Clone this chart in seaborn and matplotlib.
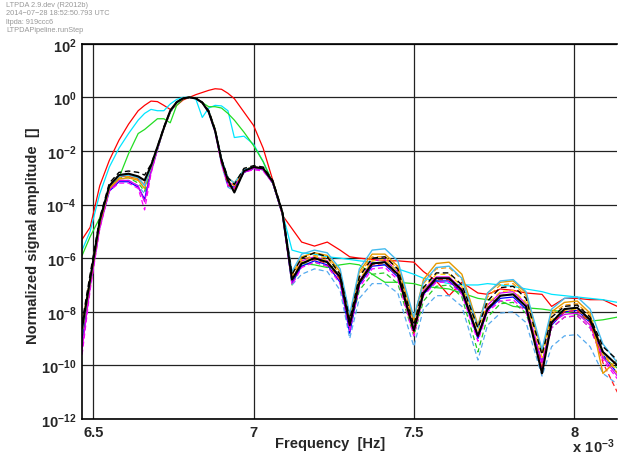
"""
Normalized signal amplitude vs frequency (LTPDA style plot)
"""

import numpy as np
import pandas as pd
import matplotlib
matplotlib.use('Agg')
import matplotlib.pyplot as plt
import matplotlib.ticker as mticker
import seaborn as sns

sns.set_style('white')
plt.rcParams['font.family'] = ['Liberation Sans', 'DejaVu Sans']
plt.rcParams['mathtext.fontset'] = 'custom'
plt.rcParams['mathtext.rm'] = 'Liberation Sans'
plt.rcParams['mathtext.bf'] = 'Liberation Sans:bold'

# frequency grid in units of 1e-3 Hz
freq = [6.465, 6.49, 6.52, 6.55, 6.58, 6.61, 6.64, 6.66, 6.68, 6.70,
        6.72, 6.74, 6.76, 6.78, 6.80, 6.82, 6.84, 6.86, 6.88, 6.90,
        6.92, 6.94, 6.97, 7.00, 7.03, 7.06, 7.09, 7.12, 7.15, 7.19,
        7.23, 7.27, 7.30, 7.33, 7.37, 7.41, 7.45, 7.50, 7.53, 7.57,
        7.61, 7.65, 7.70, 7.73, 7.77, 7.81, 7.85, 7.90, 7.93, 7.97,
        8.01, 8.05, 8.09, 8.135]

# log10 of the normalized amplitude, one list per curve
red_solid = [-5.3, -4.85, -3.3, -2.35, -1.6, -1.0, -0.5, -0.3, -0.14, -0.16,
             -0.3, -0.45, -0.3, -0.1, 0.0, 0.1, 0.18, 0.26, 0.32, 0.3,
             0.15, -0.05, -0.55, -1.05, -1.9, -3.1, -4.4, -4.9, -5.4, -5.55,
             -5.4, -5.7, -5.95, -6.0, -6.05, -6.1, -6.1, -6.15, -6.5, -6.85,
             -7.4, -6.9, -7.3, -7.35, -7.15, -7.2, -7.3, -7.35, -7.8, -7.5,
             -7.5, -7.55, -7.55, -7.8]
cyan_solid = [-5.7, -5.0, -3.6, -2.6, -1.9, -1.35, -0.85, -0.6, -0.45, -0.5,
              -0.5, -0.25, -0.08, 0.0, 0.0, -0.07, -0.75, -0.4, -0.3, -0.32,
              -0.5, -1.5, -1.45, -1.75, -2.4, -3.2, -4.3, -5.7, -5.8, -5.85,
              -5.95, -6.0, -6.05, -6.1, -6.15, -6.25, -6.4, -6.6, -6.75, -6.85,
              -6.95, -7.0, -7.0, -6.95, -7.0, -7.05, -7.15, -7.25, -7.35, -7.4,
              -7.45, -7.5, -7.55, -7.65]
green_solid = [-5.9, -5.2, -4.5, -3.4, -3.0, -2.1, -1.35, -1.2, -1.0, -0.8,
               -0.8, -0.95, -0.3, -0.06, 0.0, -0.02, -0.2, -0.35, -0.35, -0.4,
               -0.6, -0.85, -1.3, -1.8, -2.4, -3.2, -4.3, -7.0, -6.2, -6.25,
               -6.35, -6.25, -6.2, -6.25, -6.6, -6.9, -6.9, -6.95, -7.05, -7.1,
               -7.15, -7.3, -7.5, -7.55, -7.6, -7.8, -7.85, -7.9, -7.95, -8.0,
               -8.1, -8.35, -8.3, -8.2]
black_dash = [-8.4, -6.6, -4.5, -3.2, -2.8, -2.75, -2.8, -2.9, -2.5, -1.85,
              -1.1, -0.5, -0.18, -0.03, 0.0, -0.03, -0.18, -0.5, -1.2, -2.3,
              -3.0, -3.25, -2.65, -2.55, -2.6, -3.1, -4.25, -6.6, -6.0, -5.8,
              -5.95, -6.6, -8.3, -6.7, -6.0, -5.95, -6.4, -8.5, -7.1, -6.55,
              -6.55, -7.0, -8.6, -7.6, -7.1, -7.05, -7.5, -9.6, -8.2, -7.8,
              -7.75, -8.2, -9.3, -9.8]
blue_solid = [-9.0, -7.0, -4.8, -3.5, -3.15, -3.15, -3.35, -3.8, -2.75, -1.95,
              -1.15, -0.55, -0.2, -0.04, 0.0, -0.04, -0.2, -0.55, -1.25, -2.4,
              -3.3, -3.35, -2.8, -2.65, -2.7, -3.2, -4.35, -6.9, -6.3, -6.1,
              -6.25, -6.9, -8.8, -7.0, -6.3, -6.25, -6.7, -8.6, -7.35, -6.85,
              -6.85, -7.3, -9.0, -7.95, -7.5, -7.45, -7.9, -9.9, -8.5, -8.0,
              -7.95, -8.4, -9.6, -10.3]
magenta_solid = [-9.4, -7.1, -4.9, -3.45, -3.1, -3.1, -3.3, -3.9, -2.8, -1.95,
                 -1.15, -0.55, -0.2, -0.04, 0.0, -0.04, -0.2, -0.55, -1.25, -2.45,
                 -3.15, -3.3, -2.8, -2.65, -2.7, -3.2, -4.35, -6.85, -6.1, -5.95,
                 -6.1, -6.8, -8.6, -6.85, -6.1, -6.05, -6.5, -8.6, -7.2, -6.7,
                 -6.7, -7.15, -8.9, -7.75, -7.3, -7.25, -7.7, -9.9, -8.4, -8.1,
                 -8.05, -8.5, -9.7, -10.4]
magenta_dash = [-9.6, -7.2, -4.9, -3.5, -3.2, -3.2, -3.4, -4.2, -2.85, -1.95,
                -1.15, -0.55, -0.2, -0.04, 0.0, -0.04, -0.2, -0.55, -1.3, -2.5,
                -3.3, -3.4, -2.8, -2.7, -2.75, -3.2, -4.35, -7.0, -6.35, -6.15,
                -6.3, -6.95, -8.7, -7.1, -6.4, -6.35, -6.8, -8.9, -7.4, -6.9,
                -6.9, -7.35, -9.1, -8.0, -7.6, -7.55, -8.0, -10.1, -8.6, -8.2,
                -8.15, -8.6, -9.8, -10.5]
orange_solid = [-8.8, -6.9, -4.7, -3.4, -3.05, -3.0, -3.1, -3.4, -2.6, -1.9,
                -1.15, -0.55, -0.2, -0.04, 0.0, -0.04, -0.2, -0.5, -1.2, -2.35,
                -3.0, -3.2, -2.7, -2.6, -2.65, -3.15, -4.3, -6.6, -5.95, -5.8,
                -5.9, -6.5, -8.2, -6.5, -5.85, -5.85, -6.3, -8.3, -6.8, -6.2,
                -6.15, -6.6, -8.5, -7.3, -6.9, -6.85, -7.3, -9.5, -8.0, -7.65,
                -7.6, -8.05, -10.3, -9.8]
skyblue_solid = [-8.7, -6.8, -4.6, -3.3, -2.95, -2.9, -3.0, -3.3, -2.6, -1.9,
                 -1.15, -0.55, -0.2, -0.04, 0.0, -0.04, -0.2, -0.5, -1.2, -2.3,
                 -3.0, -3.2, -2.7, -2.6, -2.65, -3.15, -4.3, -6.5, -5.85, -5.7,
                 -5.8, -6.4, -8.1, -6.4, -5.7, -5.65, -6.1, -8.2, -6.9, -6.35,
                 -6.3, -6.75, -8.6, -7.3, -6.85, -6.8, -7.25, -9.4, -7.9, -7.5,
                 -7.45, -7.9, -9.2, -9.9]
skyblue_dash = [-8.9, -7.0, -4.8, -3.45, -3.1, -3.1, -3.3, -3.6, -2.7, -1.95,
                -1.15, -0.55, -0.2, -0.04, 0.0, -0.04, -0.2, -0.55, -1.3, -2.5,
                -3.35, -3.5, -2.8, -2.65, -2.7, -3.2, -4.4, -7.0, -6.6, -6.4,
                -6.5, -7.2, -9.0, -7.5, -6.95, -6.95, -7.3, -9.3, -7.9, -7.4,
                -7.4, -7.8, -9.8, -8.5, -8.05, -8.0, -8.4, -10.4, -9.3, -8.9,
                -8.85, -9.3, -10.3, -10.7]
green_dash = [-9.2, -7.0, -4.8, -3.4, -3.0, -3.0, -3.2, -3.5, -2.7, -1.95,
              -1.15, -0.55, -0.2, -0.04, 0.0, -0.04, -0.2, -0.55, -1.25, -2.45,
              -3.2, -3.4, -2.8, -2.65, -2.7, -3.2, -4.35, -6.9, -6.3, -6.15,
              -6.3, -6.9, -8.6, -7.2, -6.6, -6.55, -6.95, -8.9, -7.6, -7.05,
              -7.0, -7.45, -9.5, -8.2, -7.7, -7.65, -8.05, -9.9, -8.6, -8.2,
              -8.15, -8.6, -9.7, -10.1]
gold_dash = [-8.5, -6.7, -4.6, -3.3, -2.95, -2.9, -3.05, -3.3, -2.6, -1.9,
             -1.15, -0.55, -0.2, -0.04, 0.0, -0.04, -0.2, -0.5, -1.2, -2.35,
             -3.05, -3.25, -2.7, -2.6, -2.65, -3.15, -4.3, -6.75, -6.15, -5.95,
             -6.1, -6.75, -8.4, -6.8, -6.1, -6.05, -6.5, -8.6, -7.15, -6.6,
             -6.6, -7.05, -8.7, -7.7, -7.25, -7.2, -7.65, -9.7, -8.3, -7.95,
             -7.9, -8.35, -9.6, -10.2]
red_dash = [-8.7, -6.85, -4.7, -3.35, -2.95, -2.95, -3.05, -3.2, -2.6, -1.9,
            -1.15, -0.55, -0.2, -0.04, 0.0, -0.04, -0.2, -0.5, -1.2, -2.4,
            -3.25, -3.45, -2.75, -2.6, -2.65, -3.15, -4.3, -6.8, -6.2, -6.05,
            -6.2, -6.8, -8.5, -6.95, -6.25, -6.2, -6.65, -8.8, -7.3, -6.8,
            -6.8, -7.25, -8.9, -7.85, -7.4, -7.35, -7.8, -10.1, -8.45, -8.0,
            -7.95, -8.4, -9.9, -11.0]
orange_dash = [-8.6, -6.8, -4.7, -3.35, -3.0, -2.95, -3.05, -3.25, -2.6, -1.9,
               -1.15, -0.55, -0.2, -0.04, 0.0, -0.04, -0.2, -0.5, -1.2, -2.35,
               -3.1, -3.3, -2.7, -2.6, -2.65, -3.15, -4.3, -6.7, -6.05, -5.9,
               -6.0, -6.6, -8.3, -6.6, -5.95, -5.95, -6.4, -8.4, -6.95, -6.4,
               -6.35, -6.8, -8.6, -7.45, -7.0, -6.95, -7.4, -9.6, -8.1, -7.75,
               -7.7, -8.15, -9.5, -10.3]
black_solid = [-8.6, -6.8, -4.6, -3.3, -2.9, -2.85, -2.95, -3.1, -2.55, -1.85,
               -1.15, -0.5, -0.18, -0.04, 0.0, -0.04, -0.2, -0.55, -1.25, -2.35,
               -3.1, -3.55, -2.75, -2.6, -2.65, -3.15, -4.3, -6.8, -6.2, -6.0,
               -6.15, -6.7, -8.5, -6.9, -6.2, -6.15, -6.6, -8.7, -7.3, -6.75,
               -6.75, -7.2, -8.9, -7.9, -7.4, -7.35, -7.8, -10.3, -8.4, -7.9,
               -7.85, -8.3, -9.5, -10.0]

# (values, colour, dashed, linewidth) in drawing order
curves = [
    (red_solid, '#ff0000', False, 0.9),
    (cyan_solid, '#00e5ff', False, 0.9),
    (green_solid, '#22dd22', False, 0.9),
    (skyblue_dash, '#55aaee', True, 0.9),
    (green_dash, '#22cc22', True, 0.9),
    (blue_solid, '#0000ff', False, 0.9),
    (magenta_dash, '#ff00ff', True, 0.9),
    (magenta_solid, '#dd00ee', False, 0.9),
    (gold_dash, '#ffcc00', True, 0.9),
    (red_dash, '#ff2020', True, 0.9),
    (orange_dash, '#ff9900', True, 0.9),
    (orange_solid, '#e59a00', False, 1.0),
    (skyblue_solid, '#44bbee', False, 1.0),
    (black_dash, '#000000', True, 1.0),
    (black_solid, '#000000', False, 1.5),
]

fig = plt.figure(figsize=(6.18, 4.60), dpi=100)
ax = fig.add_axes([0.1327, 0.087, 0.8657, 0.8158])

for vals, col, dashed, lw in curves:
    df = pd.DataFrame({'f': freq, 'amp': 10.0 ** np.array(vals)})
    sns.lineplot(data=df, x='f', y='amp', color=col, linewidth=lw,
                 ax=ax, sort=False)
    if dashed:
        ax.lines[-1].set_dashes((4, 2.5))

ax.set_yscale('log')
ax.set_ylim(1e-12, 1e2)
ax.set_xlim(6.4647, 8.134)
ax.set_yticks([10.0 ** k for k in range(-12, 3, 2)])
ax.yaxis.set_minor_locator(mticker.NullLocator())
ax.yaxis.set_major_formatter(mticker.FuncFormatter(
    lambda v, p: r'$\mathbf{10^{%d}}$' % int(round(np.log10(v)))))
ax.set_xticks([6.5, 7, 7.5, 8])
ax.set_xticklabels(['6.5', '7', '7.5', '8'], fontweight='bold')
ax.tick_params(axis='both', labelsize=10.5, length=0, pad=4)

ax.grid(True, color='#222222', linewidth=0.9)
for sp in ax.spines.values():
    sp.set_color('black')
    sp.set_linewidth(1.2)
ax.spines['right'].set_visible(False)

ax.set_xlabel('Frequency  [Hz]', fontsize=10.5, fontweight='bold')
ax.set_ylabel('Normalized signal amplitude  []', fontsize=10.5, fontweight='bold')
ax.xaxis.set_label_coords(0.4636, -0.045)
ax.yaxis.set_label_coords(-0.078, 0.49)

fig.text(0.995, 0.008, r'$\mathbf{x\ 10^{-3}}$', ha='right', va='bottom', fontsize=10.5)

# header stamp
header = ['LTPDA 2.9.dev (R2012b)', '2014\u221207\u221228 18:52:50.793 UTC',
          'ltpda: 919ccc6', 'LTPDAPipeline.runStep']
for i, txt in enumerate(header):
    fig.text(6 / 618, 1 - (5.5 + 8.3 * i) / 460, txt, fontsize=5.3, color='#999999',
             va='center', ha='left')

plt.savefig('out.png', dpi=100)
plt.close()
